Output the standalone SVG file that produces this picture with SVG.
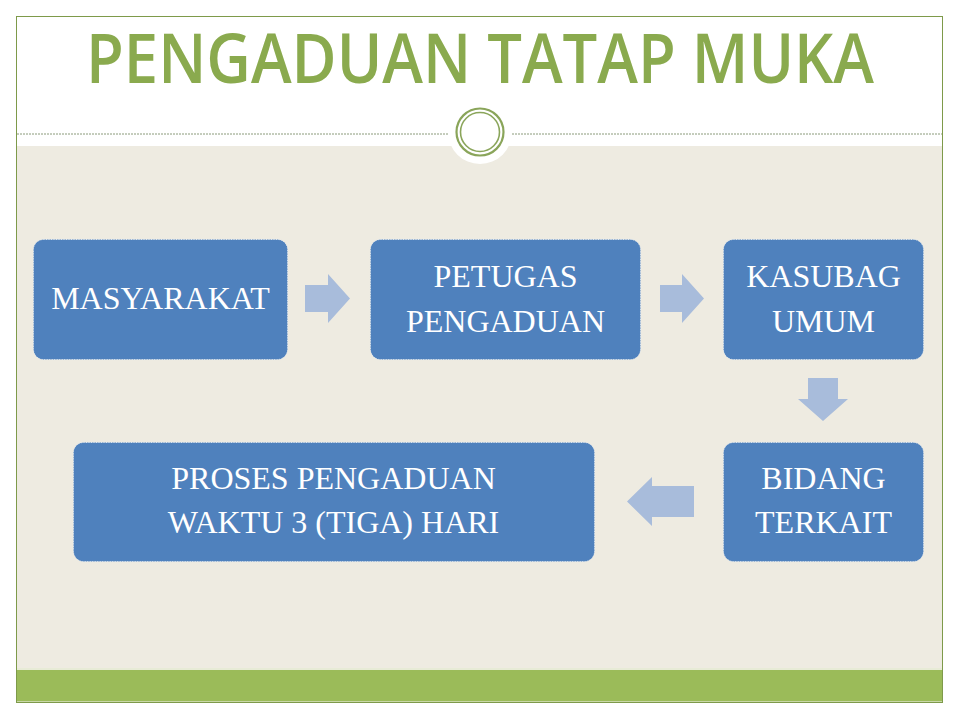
<svg xmlns="http://www.w3.org/2000/svg" width="960" height="720" viewBox="0 0 960 720">
<defs>
<style>
.box{fill:#4F81BD;stroke:#DCE6F2;stroke-width:1;stroke-dasharray:1 1.5}
.lbl{font-family:"Liberation Serif","Times New Roman",serif;font-size:32px;fill:#FFFFFF;text-anchor:middle}
.arr{fill:#A8BCDB}
</style>
</defs>
<rect x="0" y="0" width="960" height="720" fill="#FFFFFF"/>
<rect x="16.5" y="146" width="926" height="525" fill="#EEEBE1"/>
<rect x="16.5" y="670" width="926" height="31" fill="#9BBB59"/>
<line x1="17" y1="669" x2="942" y2="669" stroke="#E4EBD2" stroke-width="1.5"/>
<line x1="17" y1="701.5" x2="942" y2="701.5" stroke="#C9D8A8" stroke-width="1"/>
<rect x="16.5" y="16.5" width="926" height="686" fill="none" stroke="#7E9A4A" stroke-width="1"/>
<line x1="17" y1="134" x2="448" y2="134" stroke="#8A9A7A" stroke-width="1" stroke-dasharray="2 1"/>
<line x1="512" y1="134" x2="942" y2="134" stroke="#8A9A7A" stroke-width="1" stroke-dasharray="2 1"/>
<circle cx="480" cy="132" r="32" fill="#FFFFFF"/>
<circle cx="480" cy="132" r="23.5" fill="none" stroke="#8AA55A" stroke-width="2.2"/>
<circle cx="480" cy="132" r="19.5" fill="none" stroke="#8AA55A" stroke-width="1.6"/>
<text x="480" y="83" font-family="'Open Sans', Lato, sans-serif" font-weight="600" font-size="68" fill="#8AAA4E" text-anchor="middle" textLength="788" lengthAdjust="spacingAndGlyphs">PENGADUAN TATAP MUKA</text>
<g id="connectors">
<polygon class="arr" points="305,285 328,285 328,274 350,298.5 328,323 328,312 305,312"/>
<polygon class="arr" points="660,285 682,285 682,274 704,298.5 682,323 682,312 660,312"/>
<polygon class="arr" points="808,378 838,378 838,399 848,399 823,421 798,399 808,399"/>
<polygon class="arr" points="694,486 652,486 652,477 627,501.5 652,526 652,517 694,517"/>
</g>
<g id="masyarakat">
<rect class="box" x="33.5" y="239.5" width="254" height="120" rx="10"/>
<text class="lbl" x="160.5" y="309">MASYARAKAT</text>
</g>
<g id="petugas">
<rect class="box" x="370.5" y="239.5" width="270" height="120" rx="10"/>
<text class="lbl" x="505.5" y="287">PETUGAS</text>
<text class="lbl" x="505.5" y="332">PENGADUAN</text>
</g>
<g id="kasubag">
<rect class="box" x="723.5" y="239.5" width="200" height="120" rx="10"/>
<text class="lbl" x="823.5" y="287">KASUBAG</text>
<text class="lbl" x="823.5" y="332">UMUM</text>
</g>
<g id="bidang">
<rect class="box" x="723.5" y="442.5" width="200" height="119" rx="10"/>
<text class="lbl" x="823.5" y="489">BIDANG</text>
<text class="lbl" x="823.5" y="533">TERKAIT</text>
</g>
<g id="proses">
<rect class="box" x="73.5" y="442.5" width="521" height="119" rx="10"/>
<text class="lbl" x="333.5" y="489">PROSES PENGADUAN</text>
<text class="lbl" x="333.5" y="533">WAKTU 3 (TIGA) HARI</text>
</g>
</svg>
